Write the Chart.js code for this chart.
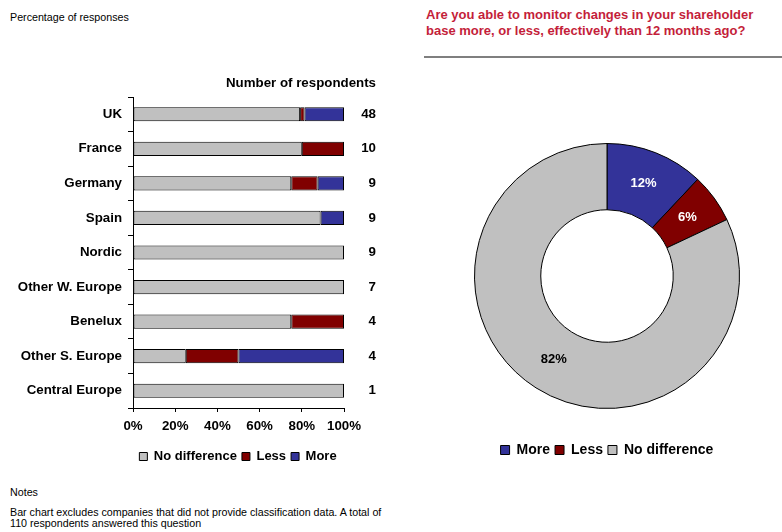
<!DOCTYPE html>
<html>
<head>
<meta charset="utf-8">
<script src="https://cdn.jsdelivr.net/npm/chart.js@4.4.1/dist/chart.umd.min.js"></script>
<style>
  body { margin: 0; background: #fff; font-family: 'Liberation Sans', Arial, sans-serif; }
  #page { position: relative; width: 782px; height: 532px; overflow: hidden; }
  .txt { position: absolute; color: #000; white-space: nowrap; }
  #barCanvas { position: absolute; left: 0; top: 60px; }
  #pieCanvas { position: absolute; left: 474px; top: 114px; }
</style>
</head>
<body>
<div id="page">
  <div class="txt" style="left:10px; top:11px; font-size:10.7px;">Percentage of responses</div>
  <div class="txt" style="left:426px; top:7px; font-size:13px; font-weight:bold; color:#C41E3A; line-height:16px;">Are you able to monitor changes in your shareholder<br>base more, or less, effectively than 12 months ago?</div>
  <div style="position:absolute; left:424px; top:56px; width:358px; height:2px; background:#7f7f7f;"></div>
  <canvas id="barCanvas" width="476" height="413"></canvas>
  <div class="txt" style="left:226px; top:75px; font-size:13.3px; font-weight:bold;">Number of respondents</div>
  <canvas id="pieCanvas" width="266" height="353"></canvas>
  <div class="txt" style="left:10px; top:486px; font-size:10.7px;">Notes</div>
  <div class="txt" style="left:10px; top:507px; font-size:10.7px; line-height:11px;">Bar chart excludes companies that did not provide classification data. A total of<br>110 respondents answered this question</div>
</div>
<script>
// data
const regions = ['UK', 'France', 'Germany', 'Spain', 'Nordic', 'Other W. Europe', 'Benelux', 'Other S. Europe', 'Central Europe'];
const respondents = ['48', '10', '9', '9', '9', '7', '4', '4', '1'];
const noDifference = [79.2, 80, 75, 88.9, 100, 100, 75, 25, 100];
const less = [2.1, 20, 12.5, 0, 0, 0, 25, 25, 0];
const more = [18.7, 0, 12.5, 11.1, 0, 0, 0, 50, 0];

const overallLabels = ['More', 'Less', 'No difference'];
const overallValues = [12, 6, 82];

const GREY = '#C0C0C0';
const RED = '#800000';
const BLUE = '#333399';
const FAMILY = "'Liberation Sans', Arial, sans-serif";

Chart.defaults.font.family = FAMILY;
Chart.defaults.color = '#000';

const boldFont = { size: 13.3, weight: 'bold' };

// respondent counts, right-aligned after the bars
const countLabels = {
    id: 'countLabels',
    afterDraw(chart) {
        const ctx = chart.ctx;
        const y = chart.scales.y;
        ctx.save();
        ctx.font = 'bold 13.3px ' + FAMILY;
        ctx.fillStyle = '#000';
        ctx.textAlign = 'right';
        ctx.textBaseline = 'middle';
        respondents.forEach((n, i) => {
            ctx.fillText(n, chart.chartArea.right + 32, y.getPixelForValue(i));
        });
        ctx.restore();
    }
};

new Chart(document.getElementById('barCanvas'), {
    type: 'bar',
    data: {
        labels: regions,
        datasets: [
            { label: 'No difference', data: noDifference, backgroundColor: GREY },
            { label: 'Less', data: less, backgroundColor: RED },
            { label: 'More', data: more, backgroundColor: BLUE }
        ].map(ds => Object.assign(ds, {
            borderColor: '#000',
            borderWidth: 1,
            borderSkipped: false,
            barPercentage: 0.82,
            categoryPercentage: 0.5
        }))
    },
    options: {
        indexAxis: 'y',
        responsive: false,
        animation: false,
        layout: { padding: { top: 37, right: 0, left: 0, bottom: 0 } },
        scales: {
            x: {
                stacked: true,
                min: 0,
                max: 100,
                ticks: { stepSize: 20, font: boldFont, padding: 6, callback: v => v + '%' },
                grid: { drawOnChartArea: false, tickLength: 4, color: '#000' },
                border: { color: '#000' },
                afterFit: s => { s.height = 37; }
            },
            y: {
                stacked: true,
                ticks: { font: boldFont, padding: 6 },
                grid: { offset: true, drawOnChartArea: false, tickLength: 5, color: '#000' },
                border: { color: '#000' },
                afterFit: s => { s.width = 133; }
            },
            // empty right axis that only reserves room for the counts
            y2: {
                type: 'category',
                labels: respondents,
                position: 'right',
                offset: true,
                grid: { display: false },
                border: { display: false },
                ticks: { display: false },
                afterFit: s => { s.width = 132; }
            }
        },
        plugins: {
            legend: {
                position: 'bottom',
                labels: { boxWidth: 8, boxHeight: 8, font: { size: 13, weight: 'bold' }, padding: 5 }
            },
            tooltip: { enabled: false }
        }
    },
    plugins: [countLabels]
});

// percentage labels inside the ring
const arcLabels = {
    id: 'arcLabels',
    afterDatasetsDraw(chart) {
        const ctx = chart.ctx;
        const meta = chart.getDatasetMeta(0);
        ctx.save();
        ctx.font = 'bold 13px ' + FAMILY;
        ctx.textAlign = 'center';
        ctx.textBaseline = 'middle';
        meta.data.forEach((arc, i) => {
            const p = arc.tooltipPosition();
            ctx.fillStyle = i === 2 ? '#000' : '#fff';
            ctx.fillText(overallValues[i] + '%', p.x, p.y);
        });
        ctx.restore();
    }
};

new Chart(document.getElementById('pieCanvas'), {
    type: 'doughnut',
    data: {
        labels: overallLabels,
        datasets: [{
            data: overallValues,
            backgroundColor: [BLUE, RED, GREY],
            borderColor: '#000',
            borderWidth: 1
        }]
    },
    options: {
        responsive: false,
        animation: false,
        cutout: '50%',
        layout: { padding: 0 },
        plugins: {
            legend: {
                position: 'bottom',
                labels: { boxWidth: 9, boxHeight: 9, font: { size: 14, weight: 'bold' }, padding: 5 }
            },
            tooltip: { enabled: false }
        }
    },
    plugins: [arcLabels]
});
</script>
</body>
</html>
